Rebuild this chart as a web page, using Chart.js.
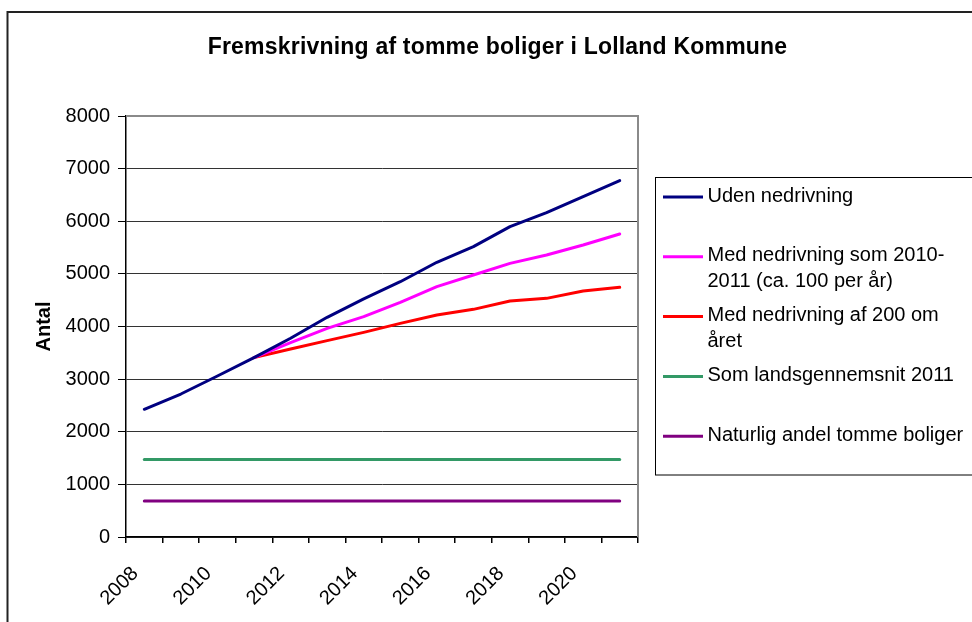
<!DOCTYPE html>
<html>
<head>
<meta charset="utf-8">
<script src="https://cdn.jsdelivr.net/npm/chart.js@4.4.1/dist/chart.umd.min.js"></script>
<style>
  html, body { margin: 0; padding: 0; background: #ffffff; }
  #wrap { width: 972px; height: 622px; position: relative; overflow: hidden; }
</style>
</head>
<body>
<div id="wrap"><canvas id="c" width="972" height="622"></canvas></div>
<script>
// ---- data ----
const chartTitle = "Fremskrivning af tomme boliger i Lolland Kommune";
const yAxisTitle = "Antal";
const categories = ["2008","2009","2010","2011","2012","2013","2014","2015","2016","2017","2018","2019","2020","2021"];
const xTickLabels = ["2008","2010","2012","2014","2016","2018","2020"];
const yTickValues = [0,1000,2000,3000,4000,5000,6000,7000,8000];

const udenNedrivning   = [2427, 2717, 3059, 3408, 3776, 4175, 4525, 4851, 5220, 5517, 5897, 6163, 6467, 6771];
const nedrivning100    = [null, null, null, 3408, 3692, 3965, 4187, 4460, 4757, 4979, 5200, 5359, 5549, 5758];
const nedrivning200    = [null, null, null, 3408, 3572, 3731, 3889, 4060, 4219, 4326, 4485, 4535, 4675, 4745];
const landsgennemsnit  = [1475, 1475, 1475, 1475, 1475, 1475, 1475, 1475, 1475, 1475, 1475, 1475, 1475, 1475];
const naturligAndel    = [685, 685, 685, 685, 685, 685, 685, 685, 685, 685, 685, 685, 685, 685];

const seriesLabelLines = [
  ["Uden nedrivning"],
  ["Med nedrivning som 2010-", "2011 (ca. 100 per år)"],
  ["Med nedrivning af 200 om", "året"],
  ["Som landsgennemsnit 2011"],
  ["Naturlig andel tomme boliger"]
];
const seriesValues = [udenNedrivning, nedrivning100, nedrivning200, landsgennemsnit, naturligAndel];
const seriesColors = ["#000080", "#FF00FF", "#FF0000", "#339966", "#800080"];

// ---- styling ----
const FONT = "'Liberation Sans', Arial, sans-serif";

const decorPlugin = {
  id: 'decor',
  beforeDraw(chart) {
    const ctx = chart.ctx;
    ctx.save();
    ctx.fillStyle = '#ffffff';
    ctx.fillRect(0, 0, chart.width, chart.height);
    ctx.restore();
  },
  beforeDatasetsDraw(chart) {
    const ctx = chart.ctx;
    const a = chart.chartArea;
    ctx.save();
    ctx.strokeStyle = '#8a8a8a';
    ctx.lineWidth = 2;
    ctx.beginPath();
    ctx.moveTo(a.left, a.top);
    ctx.lineTo(a.right, a.top);
    ctx.lineTo(a.right, a.bottom);
    ctx.stroke();
    ctx.restore();
  },
  afterDraw(chart) {
    const ctx = chart.ctx;
    ctx.save();
    // outer frame
    ctx.strokeStyle = '#222222';
    ctx.lineWidth = 2;
    ctx.strokeRect(7.5, 12, 1100, 800);
    // title
    ctx.fillStyle = '#000000';
    ctx.font = "bold 23px " + FONT;
    if ('letterSpacing' in ctx) ctx.letterSpacing = '0.2px';
    ctx.textAlign = 'center';
    ctx.textBaseline = 'middle';
    ctx.fillText(chartTitle, 497.5, 48);
    if ('letterSpacing' in ctx) ctx.letterSpacing = '0px';
    // legend box
    ctx.strokeStyle = '#000000';
    ctx.lineWidth = 1;
    ctx.strokeRect(655.5, 177.5, 400, 297.5);
    ctx.font = "20px " + FONT;
    ctx.textAlign = 'left';
    ctx.textBaseline = 'middle';
    chart.data.datasets.forEach((ds, i) => {
      const y0 = 196 + i * 59.8;
      ctx.strokeStyle = ds.borderColor;
      ctx.lineWidth = 3;
      ctx.beginPath();
      ctx.moveTo(663, y0 + 1);
      ctx.lineTo(703, y0 + 1);
      ctx.stroke();
      ctx.fillStyle = '#000000';
      seriesLabelLines[i].forEach((line, k) => {
        ctx.fillText(line, 707.5, y0 + k * 25.7);
      });
    });
    ctx.restore();
  }
};

const datasets = seriesValues.map((vals, i) => ({
  label: seriesLabelLines[i].join(' '),
  data: vals,
  borderColor: seriesColors[i],
  backgroundColor: seriesColors[i],
  borderWidth: 3,
  pointRadius: 0,
  pointHoverRadius: 0,
  tension: 0,
  fill: false,
  spanGaps: false,
  borderCapStyle: 'round',
  borderJoinStyle: 'round'
}));

new Chart(document.getElementById('c'), {
  type: 'line',
  data: { labels: categories, datasets: datasets },
  options: {
    responsive: false,
    animation: false,
    devicePixelRatio: 1,
    layout: { padding: { left: 0, right: 334, top: 116, bottom: 0 } },
    plugins: {
      legend: { display: false },
      title: { display: false },
      tooltip: { enabled: false }
    },
    scales: {
      x: {
        type: 'category',
        offset: true,
        afterFit(scale) { scale.height = 85; },
        grid: {
          offset: true,
          drawOnChartArea: false,
          drawTicks: true,
          tickLength: 6,
          tickColor: '#000000',
          lineWidth: 1.5
        },
        border: { display: true, color: '#000000', width: 1.5 },
        ticks: {
          autoSkip: false,
          minRotation: 45,
          maxRotation: 45,
          padding: 19,
          labelOffset: -9,
          color: '#000000',
          font: { family: FONT, size: 20 },
          callback(value, index) {
            const lab = categories[index];
            return xTickLabels.includes(lab) ? lab : '';
          }
        }
      },
      y: {
        min: 0,
        max: 8000,
        afterFit(scale) { scale.width = 126; },
        afterBuildTicks(scale) { scale.ticks = yTickValues.map(v => ({ value: v })); },
        grid: {
          color: '#333333',
          lineWidth: 1,
          drawTicks: true,
          tickLength: 8,
          tickColor: '#000000'
        },
        border: { display: true, color: '#000000', width: 1.5 },
        ticks: {
          padding: 8,
          color: '#000000',
          font: { family: FONT, size: 20 },
          callback(value) { return String(value); }
        },
        title: {
          display: true,
          text: yAxisTitle,
          color: '#000000',
          font: { family: FONT, size: 20, weight: 'bold' },
          padding: { top: 32, bottom: 0 }
        }
      }
    }
  },
  plugins: [decorPlugin]
});
</script>
</body>
</html>
